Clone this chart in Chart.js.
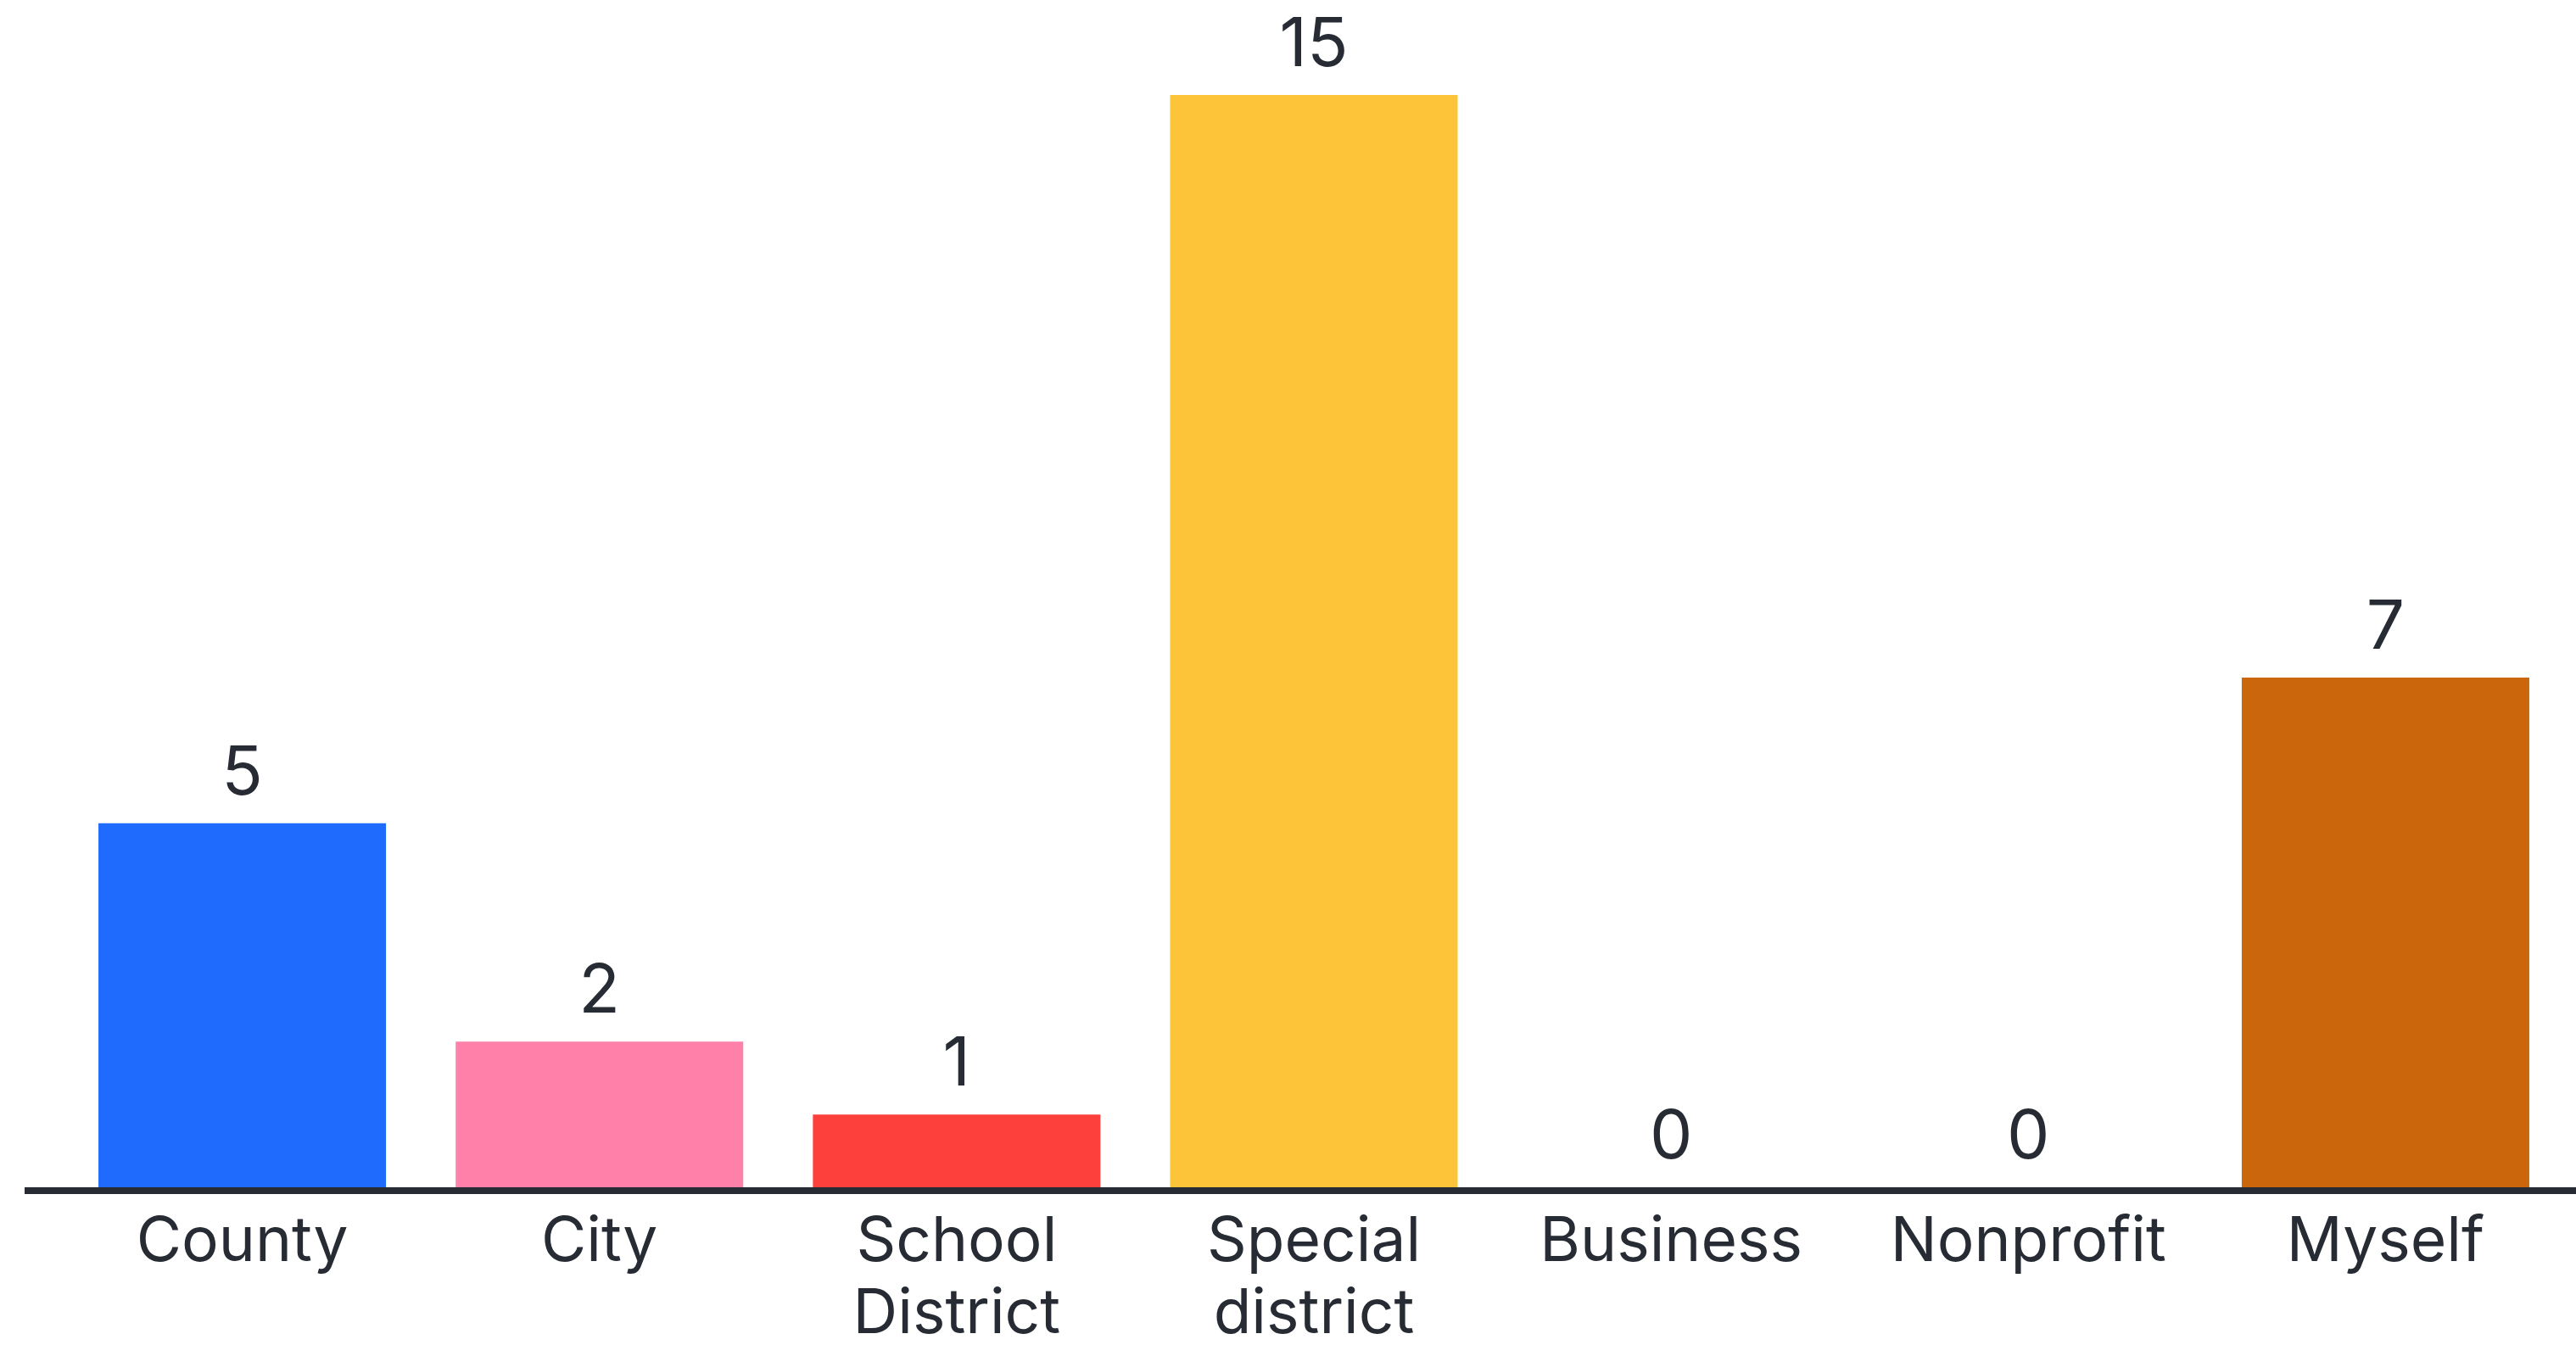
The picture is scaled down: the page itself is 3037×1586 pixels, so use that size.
<!DOCTYPE html>
<html>
<head>
<meta charset="utf-8">
<script src="https://cdn.jsdelivr.net/npm/chart.js@4/dist/chart.umd.min.js"></script>
<style>
  html, body { margin: 0; padding: 0; background: #fff; }
  #wrap { width: 3037px; height: 1586px; position: relative; }
</style>
</head>
<body>
<div id="wrap"><canvas id="myChart"></canvas></div>
<script>
const categories = ['County', 'City', ['School', 'District'], ['Special', 'district'], 'Business', 'Nonprofit', 'Myself'];
const counts = [5, 2, 1, 15, 0, 0, 7];
const barColors = ['#1e6bfe', '#ff80a8', '#fe403d', '#fdc439', '#2bb673', '#8a5cf6', '#cb660d'];

const textColor = '#272c34';
const fontFamily = 'Inter, "Noto Sans", sans-serif';

// numbers above each bar
const valueLabels = {
    id: 'valueLabels',
    afterDatasetsDraw(chart) {
        const ctx = chart.ctx;
        const meta = chart.getDatasetMeta(0);
        ctx.save();
        ctx.fillStyle = textColor;
        ctx.font = '80px ' + fontFamily;
        ctx.textAlign = 'center';
        ctx.textBaseline = 'alphabetic';
        meta.data.forEach((bar, i) => {
            ctx.fillText(String(counts[i]), bar.x, bar.y - 34);
        });
        ctx.restore();
    }
};

// baseline runs a bit past the plot on the left
const baseLine = {
    id: 'baseLine',
    afterDatasetsDraw(chart) {
        const ctx = chart.ctx;
        const y = chart.scales.y.getPixelForValue(0) + 4;
        ctx.save();
        ctx.strokeStyle = textColor;
        ctx.lineWidth = 8;
        ctx.beginPath();
        ctx.moveTo(chart.chartArea.left - 46, y);
        ctx.lineTo(chart.width, y);
        ctx.stroke();
        ctx.restore();
    }
};

const ctx = document.getElementById('myChart').getContext('2d');
new Chart(ctx, {
    type: 'bar',
    data: {
        labels: categories,
        datasets: [{
            data: counts,
            backgroundColor: barColors,
            borderWidth: 0,
            categoryPercentage: 1,
            barPercentage: 0.805
        }]
    },
    options: {
        responsive: true,
        maintainAspectRatio: false,
        devicePixelRatio: 1,
        animation: false,
        layout: { padding: { top: 112, left: 75, right: 14, bottom: 0 } },
        plugins: {
            legend: { display: false },
            tooltip: { enabled: false }
        },
        scales: {
            x: {
                grid: { display: false, drawTicks: false },
                border: { display: false },
                ticks: {
                    color: textColor,
                    font: { family: fontFamily, size: 73, lineHeight: 1.17 },
                    padding: 22,
                    maxRotation: 0,
                    autoSkip: false
                },
                afterFit: s => { s.height = 186; }
            },
            y: {
                display: false,
                min: 0,
                max: 15
            }
        }
    },
    plugins: [valueLabels, baseLine]
});
</script>
</body>
</html>
